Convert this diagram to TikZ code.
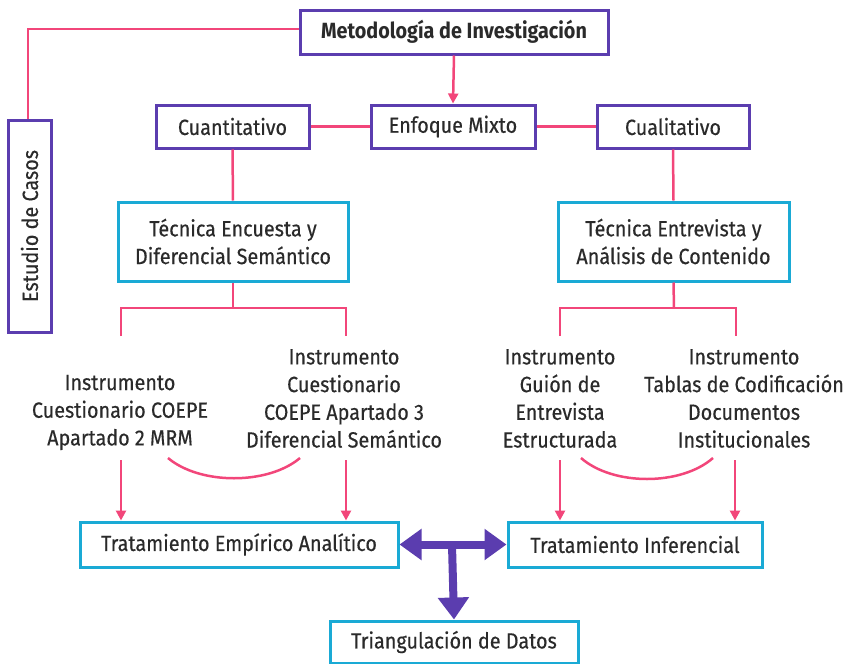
\documentclass[tikz,border=0pt]{standalone}
\usepackage{fontspec}
\setmainfont{Fira Sans}[FakeStretch=0.9, UprightFeatures={FakeBold=0.4}]
\usetikzlibrary{arrows.meta}
\definecolor{violeta}{HTML}{5B3DAF}
\definecolor{rosa}{HTML}{F2467A}
\definecolor{celeste}{HTML}{1AAAD5}
\definecolor{tinta}{HTML}{2A2A2A}
\tikzset{
  base/.style={font=\fontsize{22}{27.7}\selectfont, text=tinta, inner sep=0pt},
  caja/.style={base, draw=violeta, line width=3pt, fill=white},
  cajaazul/.style={base, draw=celeste, line width=3pt, fill=white, align=center},
  texto/.style={base, align=center},
  enlace/.style={draw=rosa, line width=2.5pt},
  flecha/.style={enlace, -{Triangle[width=10pt,length=10pt]}},
  gruesa/.style={draw=violeta, line width=8pt},
}
\begin{document}
\begin{tikzpicture}[x=1pt,y=-1pt]
\useasboundingbox (0,0) rectangle (852,664);
% boxes
\node[caja, minimum width=308, minimum height=44, font=\fontsize{22}{27.7}\selectfont\bfseries] (met) at (454,32) {Metodología de Investigación};
\node[caja, minimum width=212, minimum height=43, rotate=90] (est) at (29.5,226) {Estudio de Casos};
\node[caja, minimum width=153, minimum height=43] (cuan) at (232.5,126.5) {Cuantitativo};
\node[caja, minimum width=164, minimum height=43] (enf) at (453,126.5) {Enfoque Mixto};
\node[caja, minimum width=152, minimum height=43] (cual) at (673,126.5) {Cualitativo};
\node[cajaazul, minimum width=230, minimum height=79] (tenc) at (233,241.5) {Técnica Encuesta y\\Diferencial Semántico};
\node[cajaazul, minimum width=231, minimum height=79] (tent) at (673.5,241.5) {Técnica Entrevista y\\Análisis de Contenido};
\node[cajaazul, minimum width=318, minimum height=45] (trat1) at (239,544.5) {Tratamiento Empírico Analítico};
\node[cajaazul, minimum width=254, minimum height=45] (trat2) at (635,544.5) {Tratamiento Inferencial};
\node[cajaazul, minimum width=248, minimum height=42] (tri) at (454,642) {Triangulación de Datos};
% instruments
\node[texto] (i1) at (120,412.5) {Instrumento\\Cuestionario COEPE\\Apartado 2 MRM};
\node[texto] (i2) at (344,398.5) {Instrumento\\Cuestionario\\COEPE Apartado 3\\Diferencial Semántico};
\node[texto] (i3) at (560,398.5) {Instrumento\\Guión de\\Entrevista\\Estructurada};
\node[texto] (i4) at (744,398.5) {Instrumento\\Tablas de Codificación\\Documentos\\Institucionales};
% helper coordinates
\coordinate (esq) at (28,29);
\coordinate (ramL) at (233,308);
\coordinate (ramR) at (674,308);
\coordinate (pl1) at (121,336);
\coordinate (pl2) at (346,336);
\coordinate (pr1) at (560,336);
\coordinate (pr2) at (736,336);
\coordinate (al1) at (121,460);
\coordinate (al2) at (346,460);
\coordinate (ar1) at (560,460);
\coordinate (ar2) at (735,460);
\coordinate (tee) at (452,545);
% connectors
\draw[enlace] (met.west |- esq) -- (esq) -- (esq |- est.east);
\draw[flecha] (met.south) -- (enf.north);
\draw[enlace] (cuan) -- (enf);
\draw[enlace] (enf) -- (cual);
\draw[enlace] (cuan.south) -- (tenc.north);
\draw[enlace] (cual.south) -- (tent.north);
\draw[enlace] (tenc.south) -- (ramL);
\draw[enlace] (pl1) |- (ramL) -| (pl2);
\draw[enlace] (tent.south) -- (ramR);
\draw[enlace] (pr1) |- (ramR) -| (pr2);
\draw[flecha] (al1) -- (al1 |- trat1.north);
\draw[flecha] (al2) -- (al2 |- trat1.north);
\draw[flecha] (ar1) -- (ar1 |- trat2.north);
\draw[flecha] (ar2) -- (ar2 |- trat2.north);
\draw[enlace] (168,458) .. controls (200,485) and (268,485) .. (300,458);
\draw[enlace] (581,458) .. controls (613,486) and (681,486) .. (713,458);
% central T arrow
\draw[gruesa, {Triangle[width=30pt,length=22pt]}-{Triangle[width=30pt,length=22pt]}] (trat1.east) -- (trat2.west);
\draw[gruesa, -{Triangle[width=30pt,length=22pt]}] (tee) -- (tri.north);
\end{tikzpicture}
\end{document}
